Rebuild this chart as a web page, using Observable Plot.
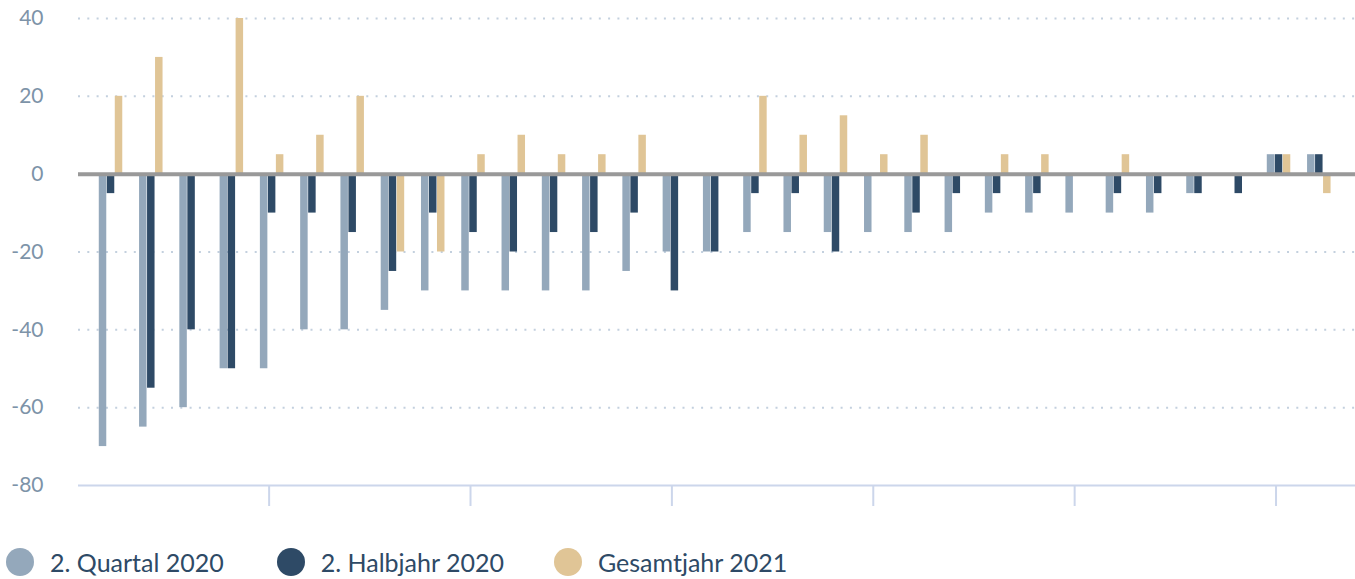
<!DOCTYPE html>
<html>
<head>
<meta charset="utf-8">
<script src="https://cdn.jsdelivr.net/npm/d3@7"></script>
<script src="https://cdn.jsdelivr.net/npm/@observablehq/plot@0.6"></script>
<style>
  html, body { margin: 0; padding: 0; background: #fff; }
  #chart svg { display: block; overflow: visible; }
  .legend { display: flex; align-items: center; height: 28px; margin-top: 18px; font-family: Lato, "Open Sans", sans-serif; font-size: 25px; color: #2e4a66; }
  .legend .item { display: flex; align-items: center; }
  .legend .sw { width: 28px; height: 28px; border-radius: 50%; margin-left: 6px; margin-right: 16px; }
</style>
</head>
<body>
<div id="chart"></div>
<div class="legend" id="legend"></div>
<script>
const categories = ["1","2","3","4","5","6","7","8","9","10","11","12","13","14","15","16","17","18","19","20","21","22","23","24","25","26","27","28","29","30","31"];
const seriesNames = ["2. Quartal 2020", "2. Halbjahr 2020", "Gesamtjahr 2021"];
const quartal2020 = [-70,-65,-60,-50,-50,-40,-40,-35,-30,-30,-30,-30,-30,-25,-20,-20,-15,-15,-15,-15,-15,-15,-10,-10,-10,-10,-10,-5,0,5,5];
const halbjahr2020 = [-5,-55,-40,-50,-10,-10,-15,-25,-10,-15,-20,-15,-15,-10,-30,-20,-5,-5,-20,0,-10,-5,-5,-5,0,-5,-5,-5,-5,5,5];
const gesamtjahr2021 = [20,30,0,40,5,10,20,-20,-20,5,10,5,5,10,0,0,20,10,15,5,10,0,5,5,0,5,0,0,0,5,-5];
const yTicks = [40,20,0,-20,-40,-60,-80];
const gridValues = [40,20,-20,-40,-60];
const xTickCategories = ["5","10","15","20","25","30"];
const colors = ["#94a8bb", "#2e4a66", "#e0c596"];

const seriesData = [quartal2020, halbjahr2020, gesamtjahr2021];
const offsets = [-8, 0, 8];

const rows = seriesData.map(arr => arr.map((v, i) => ({cat: categories[i], value: v})).filter(d => d.value !== 0));

const chart = Plot.plot({
  width: 1355,
  height: 530,
  marginLeft: 78,
  marginRight: 0,
  marginTop: 18,
  marginBottom: 45,
  style: {fontFamily: "Lato, 'Open Sans', sans-serif", fontSize: "21px", background: "#fff", overflow: "visible"},
  x: {type: "band", domain: categories, paddingInner: 0.814, paddingOuter: 0.76, align: 0.47, round: false, axis: null},
  y: {domain: [-80, 40], axis: null},
  marks: [
    Plot.ruleY(gridValues, {stroke: "#c3d0de", strokeWidth: 2, strokeDasharray: "2,7.3"}),
    Plot.ruleY([-80], {stroke: "#ccd6eb", strokeWidth: 2}),
    Plot.axisX(xTickCategories, {tickSize: 21, tickFormat: () => "", label: null, stroke: "#ccd6eb", strokeWidth: 2, dx: -3, anchor: "bottom"}),
    ...rows.map((r, k) => Plot.barY(r, {x: "cat", y: "value", fill: colors[k], dx: offsets[k], insetLeft: 0, insetRight: 0})),
    Plot.ruleY([0], {stroke: "#999999", strokeWidth: 4}),
    Plot.axisY(yTicks, {tickSize: 0, tickPadding: 35, label: null, tickFormat: d => String(d), fill: "#7d93a8", anchor: "left"})
  ]
});
document.getElementById("chart").appendChild(chart);

const legend = document.getElementById("legend");
const gaps = [0, 47, 44];
seriesNames.forEach((name, k) => {
  const item = document.createElement("div");
  item.className = "item";
  item.style.marginLeft = gaps[k] + "px";
  const sw = document.createElement("span");
  sw.className = "sw";
  sw.style.background = colors[k];
  const t = document.createElement("span");
  t.textContent = name;
  item.appendChild(sw);
  item.appendChild(t);
  legend.appendChild(item);
});
</script>
</body>
</html>
